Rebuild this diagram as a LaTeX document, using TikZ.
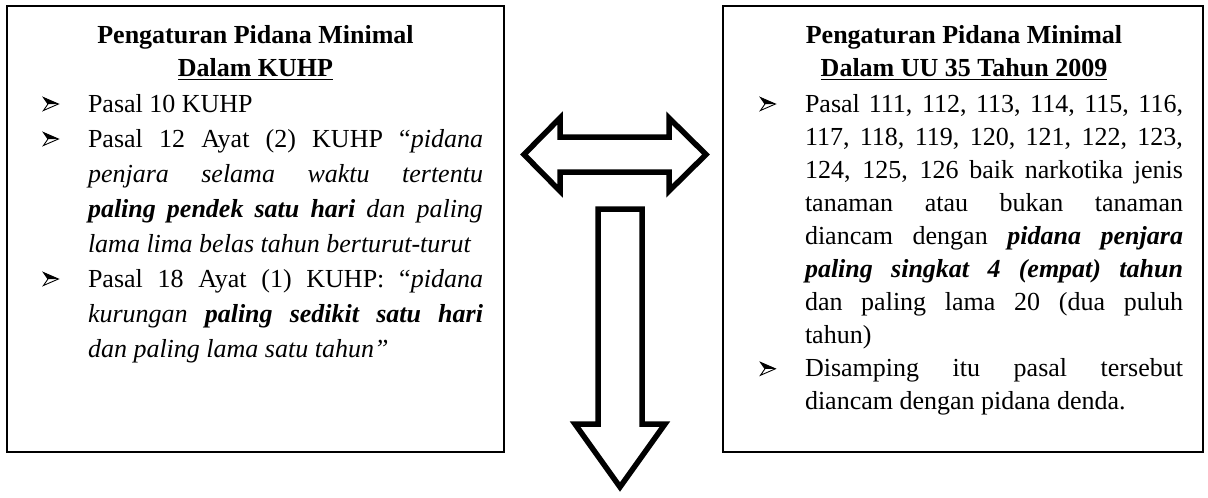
\documentclass[tikz,border=0pt]{standalone}
\usepackage{fontspec}
\setmainfont{Liberation Serif}
\newcommand\myul[1]{\leavevmode\setbox0\hbox{#1}\rlap{\rule[-4pt]{\wd0}{1.5pt}}\box0}
\newcommand\arrowbullet{\tikz[baseline=0pt, x=1pt, y=1pt]{%
  \fill (0,14.5) -- (15,8) -- (4.5,8) -- cycle;
  \draw[line width=0.9pt, line join=miter] (0,14.5) -- (15,8) -- (0,1.5) -- (4.5,8) -- cycle;}}
\newcommand\bitem{\par\noindent\llap{\makebox[45pt][l]{\arrowbullet}}}
\hbadness=10000 \hfuzz=6pt
\tikzset{
  panel/.style={draw, line width=1.8pt},
  plain/.style={inner sep=0pt, outer sep=0pt},
  blockarrow/.style={draw, line width=5.5pt, line join=miter, miter limit=10, fill=white},
}
\begin{document}
\begin{tikzpicture}[x=1pt,y=-1pt]
\useasboundingbox (0,0) rectangle (1208,498);
% panels
\draw[panel] (7,6) rectangle (504,452);
\draw[panel] (723,6) rectangle (1203,452);
% titles
\node[plain, anchor=base] (kuhpt) at (255.5,43) {\vtop{\hsize=480pt\parindent=0pt\centering\fontsize{26}{33}\selectfont\bfseries Pengaturan Pidana Minimal\par\myul{Dalam KUHP}\par}};
\node[plain, anchor=base] (uut) at (964,43) {\vtop{\hsize=470pt\parindent=0pt\centering\fontsize{26}{33}\selectfont\bfseries Pengaturan Pidana Minimal\par\myul{Dalam UU 35 Tahun 2009}\par}};
% left body
\node[plain, anchor=base west] (kuhpb) at (88,112) {\vtop{\hsize=395pt\parindent=0pt\parskip=0pt\fontsize{26}{35}\selectfont
\bitem Pasal 10 KUHP
\bitem Pasal 12 Ayat (2) KUHP “\textit{pidana}\linebreak
\textit{penjara selama waktu tertentu}\linebreak
\textit{\textbf{paling pendek satu hari} dan paling}\linebreak
\textit{lama lima belas tahun berturut-turut}
\bitem Pasal 18 Ayat (1) KUHP: “\textit{pidana}\linebreak
\textit{kurungan \textbf{paling sedikit satu hari}}\linebreak
\textit{dan paling lama satu tahun”}\par}};
% right body
\node[plain, anchor=base west] (uub) at (805,112) {\vtop{\hsize=378pt\parindent=0pt\parskip=0pt\fontsize{26}{33.1}\selectfont
\bitem Pasal 111, 112, 113, 114, 115, 116,\linebreak
117, 118, 119, 120, 121, 122, 123,\linebreak
124, 125, 126 baik narkotika jenis\linebreak
tanaman atau bukan tanaman\linebreak
diancam dengan \textbf{\textit{pidana penjara}}\linebreak
\textbf{\textit{paling singkat 4 (empat) tahun}}\linebreak
dan paling lama 20 (dua puluh\linebreak
tahun)
\bitem Disamping itu pasal tersebut\linebreak
diancam dengan pidana denda.\par}};
% arrows
\draw[blockarrow] (524,154.5) -- (560,118) -- (560,137) -- (669,137) -- (669,118) -- (706,154.5) -- (669,191) -- (669,172) -- (560,172) -- (560,191) -- cycle;
\draw[blockarrow] (598,209) -- (642,209) -- (642,424) -- (665,424) -- (620,487) -- (575,424) -- (598,424) -- cycle;
\end{tikzpicture}
\end{document}
